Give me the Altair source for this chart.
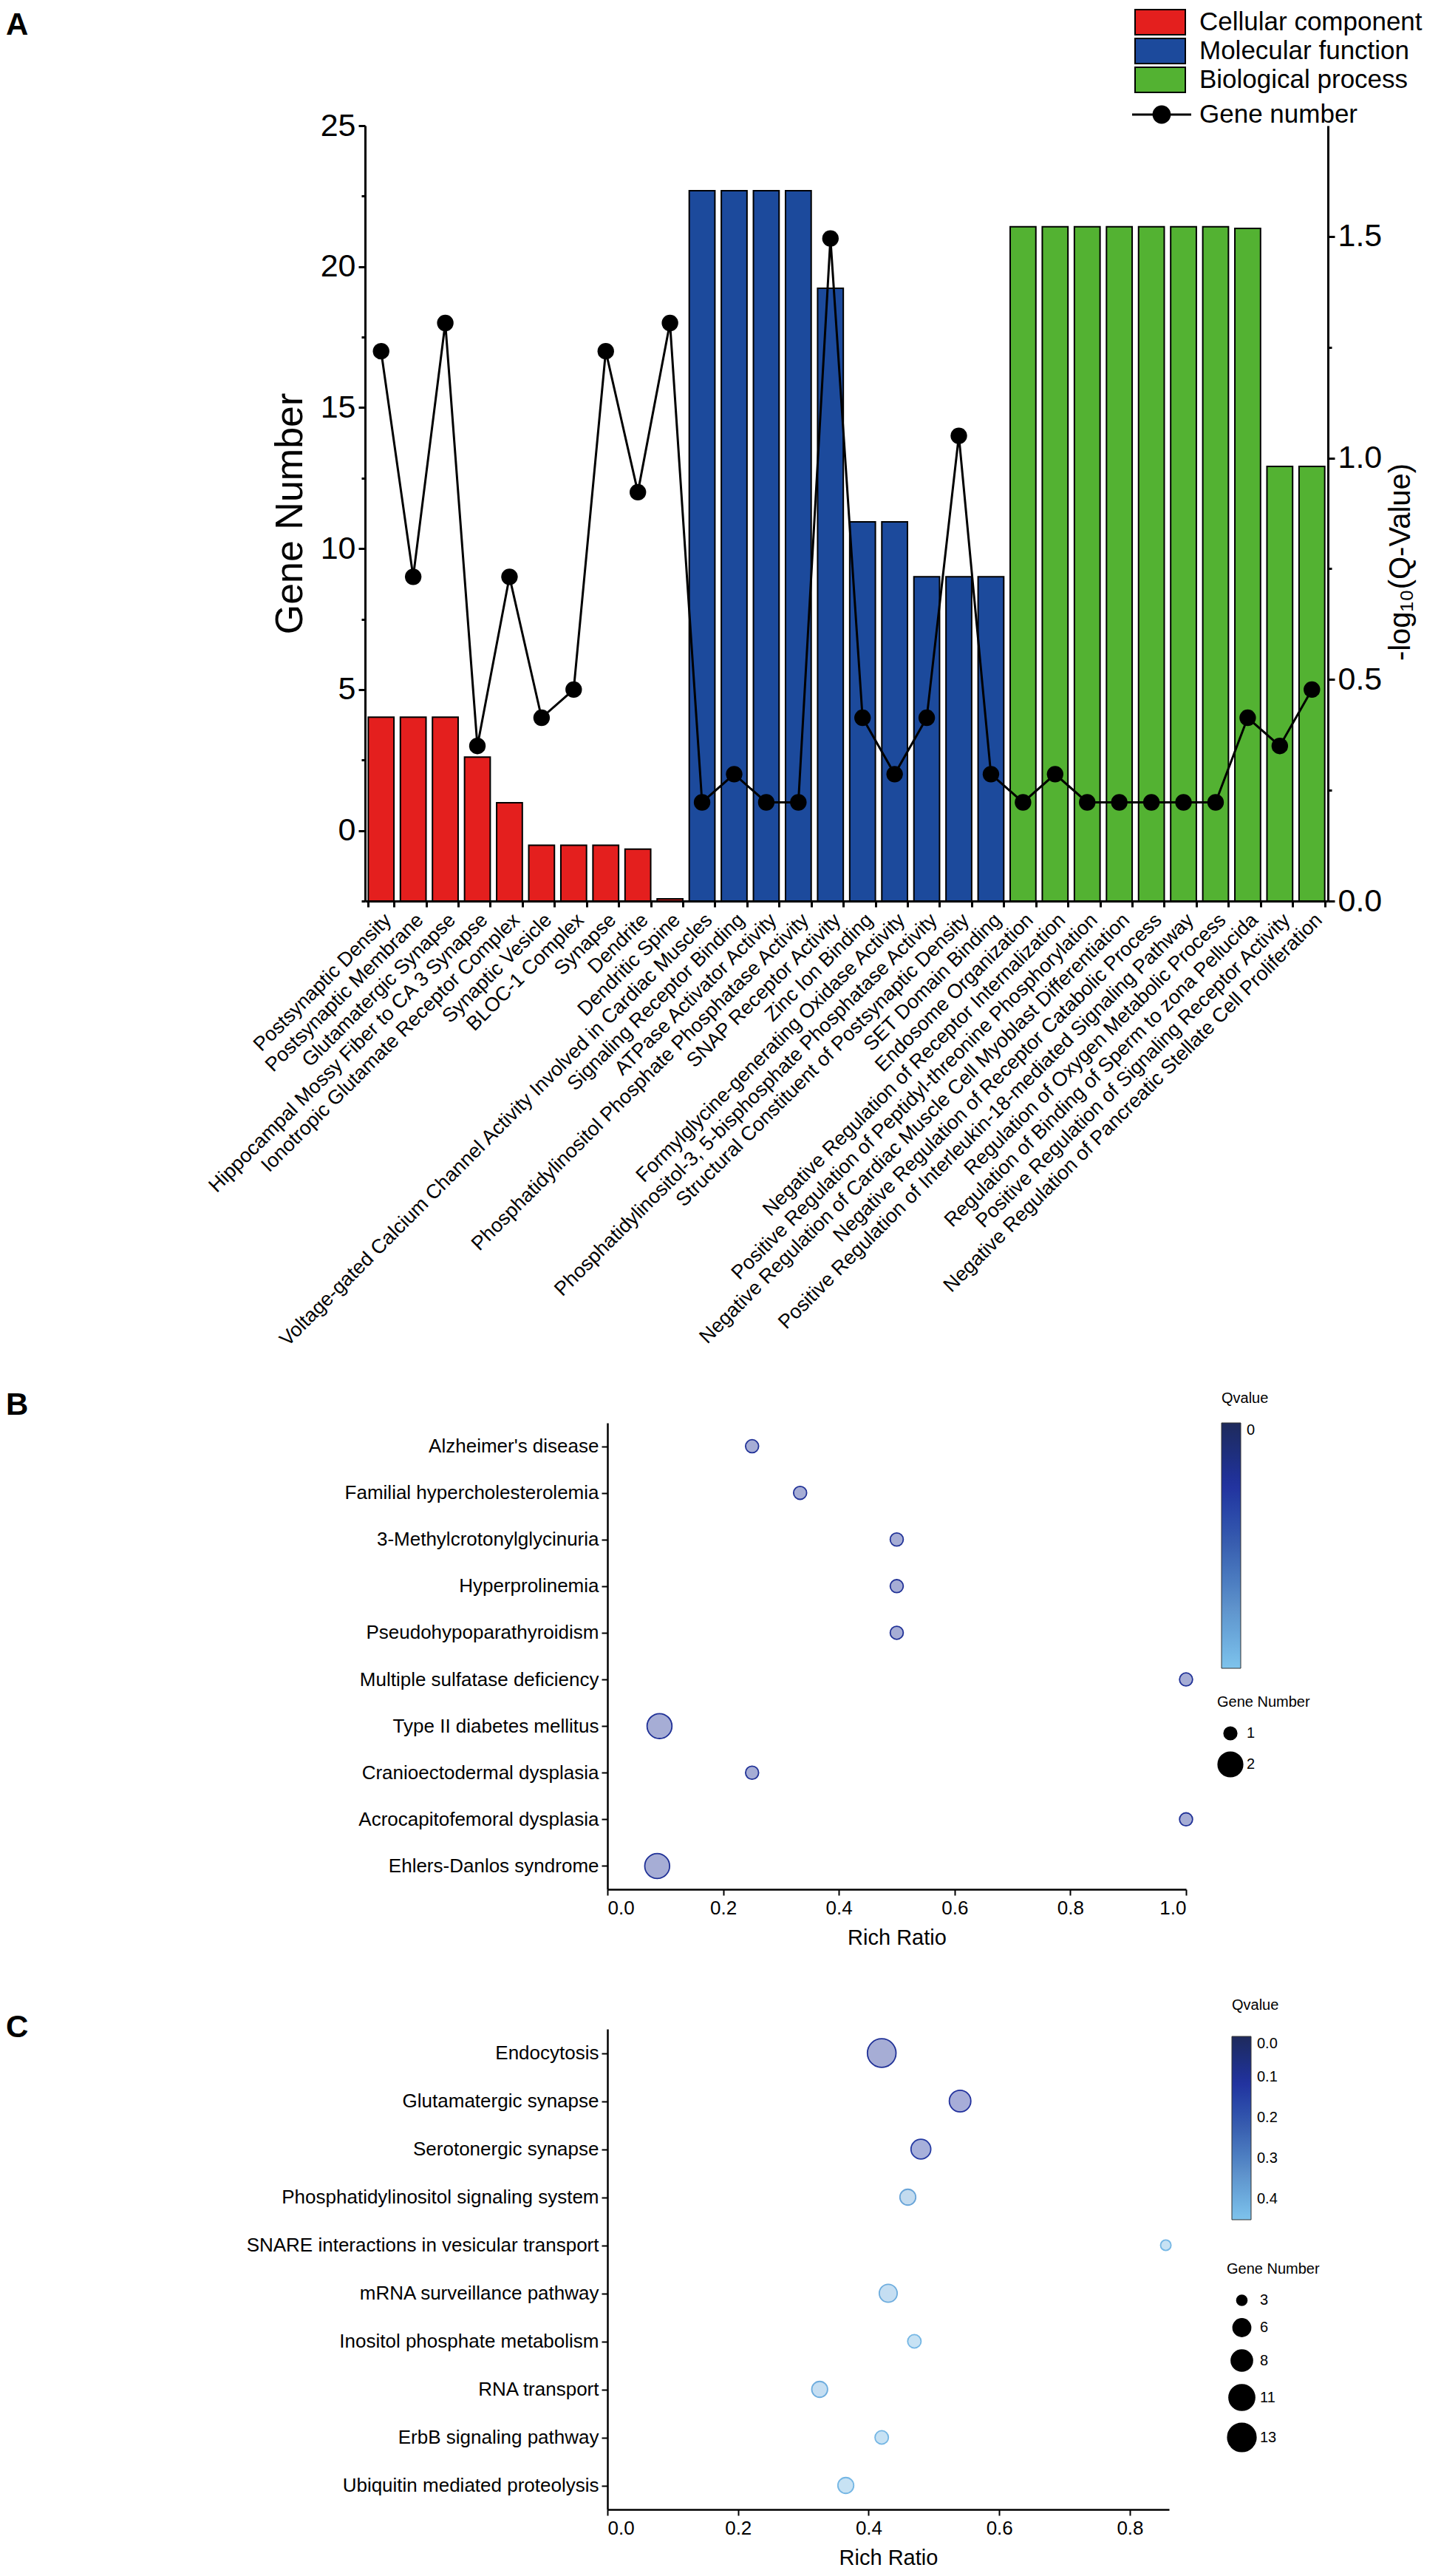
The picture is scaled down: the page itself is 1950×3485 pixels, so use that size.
import altair as alt
import pandas as pd

FONT = "Liberation Sans"

# ---------------- Panel A data ----------------
go_terms = [
    "Postsynaptic Density", "Postsynaptic Membrane", "Glutamatergic Synapse",
    "Hippocampal Mossy Fiber to CA 3 Synapse", "Ionotropic Glutamate Receptor Complex",
    "Synaptic Vesicle", "BLOC-1 Complex", "Synapse", "Dendrite", "Dendritic Spine",
    "Voltage-gated Calcium Channel Activity Involved in Cardiac Muscles",
    "Signaling Receptor Binding", "ATPase Activator Activity",
    "Phosphatidylinositol Phosphate Phosphatase Activity", "SNAP Receptor Activity",
    "Zinc Ion Binding", "Formylglycine-generating Oxidase Activity",
    "Phosphatidylinositol-3, 5-bisphosphate Phosphatase Activity",
    "Structural Constituent of Postsynaptic Density", "SET Domain Binding",
    "Endosome Organization", "Negative Regulation of Receptor Internalization",
    "Positive Regulation of Peptidyl-threonine Phosphorylation",
    "Negative Regulation of Cardiac Muscle Cell Myoblast Differentiation",
    "Negative Regulation of Receptor Catabolic Process",
    "Positive Regulation of Interleukin-18-mediated Signaling Pathway",
    "Regulation of Oxygen Metabolic Process",
    "Regulation of Binding of Sperm to zona Pellucida",
    "Positive Regulation of Signaling Receptor Activity",
    "Negative Regulation of Pancreatic Stellate Cell Proliferation",
]
go_category = (["Cellular component"] * 10 + ["Molecular function"] * 10
               + ["Biological process"] * 10)
go_neglog10_q = [0.415, 0.415, 0.415, 0.325, 0.222, 0.126, 0.126, 0.126, 0.117, 0.005,
                 1.603, 1.603, 1.603, 1.603, 1.383, 0.856, 0.856, 0.732, 0.732, 0.732,
                 1.522, 1.522, 1.522, 1.522, 1.522, 1.522, 1.522, 1.518, 0.981, 0.981]
go_gene_number = [17, 9, 18, 3, 9, 4, 5, 17, 12, 18,
                  1, 2, 1, 1, 21, 4, 2, 4, 14, 2,
                  1, 2, 1, 1, 1, 1, 1, 4, 3, 5]
cat_names = ["Cellular component", "Molecular function", "Biological process"]
cat_colors = ["#E41F1E", "#1C4A9C", "#53B232"]

# ---------------- Panel B data ----------------
kegg_disease = ["Alzheimer's disease", "Familial hypercholesterolemia",
                "3-Methylcrotonylglycinuria", "Hyperprolinemia", "Pseudohypoparathyroidism",
                "Multiple sulfatase deficiency", "Type II diabetes mellitus",
                "Cranioectodermal dysplasia", "Acrocapitofemoral dysplasia",
                "Ehlers-Danlos syndrome"]
disease_ratio = [0.25, 0.333, 0.5, 0.5, 0.5, 1.0, 0.09, 0.25, 1.0, 0.086]
disease_genes = [1, 1, 1, 1, 1, 1, 2, 1, 1, 2]
disease_q = [0.1] * 10

# ---------------- Panel C data ----------------
kegg_pathway = ["Endocytosis", "Glutamatergic synapse", "Serotonergic synapse",
                "Phosphatidylinositol signaling system",
                "SNARE interactions in vesicular transport", "mRNA surveillance pathway",
                "Inositol phosphate metabolism", "RNA transport", "ErbB signaling pathway",
                "Ubiquitin mediated proteolysis"]
pathway_ratio = [0.42, 0.54, 0.48, 0.46, 0.855, 0.43, 0.47, 0.325, 0.42, 0.365]
pathway_genes = [13, 8, 7, 5, 3, 6, 4, 5, 4, 5]
pathway_q = [0.10, 0.11, 0.13, 0.38, 0.42, 0.40, 0.42, 0.40, 0.42, 0.42]

q_range = ["#7EC3EC", "#5E92CB", "#3A5FB0", "#22319E", "#1F2A5C"]

INDEP = dict(color="independent", size="independent", stroke="independent",
             fill="independent", x="independent", y="independent")
LEG_INDEP = dict(color="independent", size="independent", fill="independent")

# ================= Panel A =================
dfA = pd.DataFrame({
    "term": go_terms, "category": go_category, "neglogq": go_neglog10_q,
    "genes": go_gene_number, "series": ["Gene number"] * len(go_terms),
})

baseA = alt.Chart(dfA).encode(
    x=alt.X("term:N", sort=go_terms,
            scale=alt.Scale(paddingInner=0.2, paddingOuter=0.1),
            axis=alt.Axis(title=None, labelAngle=-45, labelFontSize=27, labelLimit=1200,
                          tickBand="extent", tickSize=8, tickWidth=3, domainWidth=3,
                          labelPadding=4))
)

right_axis = alt.Axis(
    orient="right", title="-log₁₀(Q-Value)", titleFontSize=40, titleFontWeight="normal",
    titleAngle=270, titleBaseline="top", titlePadding=6, titleY=590,
    values=[0, 0.25, 0.5, 0.75, 1.0, 1.25, 1.5],
    labelExpr="datum.value % 0.5 == 0 ? format(datum.value, '.1f') : ''",
    labelFontSize=43, labelPadding=4,
    tickSize={"condition": {"test": "datum.value % 0.5 != 0", "value": 5}, "value": 9},
    tickWidth=3, domainWidth=3, grid=False)

bars = baseA.mark_bar(stroke="black", strokeWidth=2).encode(
    y=alt.Y("neglogq:Q", scale=alt.Scale(domain=[0, 1.75], nice=False, zero=True),
            axis=right_axis),
    fill=alt.Fill("category:N", scale=alt.Scale(domain=cat_names, range=cat_colors),
                  legend=alt.Legend(orient="none", legendX=1058, legendY=-158, title=None,
                                    symbolType="M-2,-1L2,-1L2,1L-2,1Z", symbolSize=1156,
                                    symbolStrokeColor="black", symbolStrokeWidth=2,
                                    labelFontSize=35, labelOffset=35, rowPadding=-4,
                                    labelLimit=800, padding=0)),
)

left_axis = alt.Axis(
    orient="left", title="Gene Number", titleFontSize=52, titleFontWeight="normal",
    values=[-2.5, 0, 2.5, 5, 7.5, 10, 12.5, 15, 17.5, 20, 22.5, 25],
    labelExpr="(datum.value >= 0 && datum.value % 5 == 0) ? datum.label : ''",
    labelFontSize=43, labelPadding=4, titlePadding=14,
    tickSize={"condition": {"test": "datum.value % 5 != 0", "value": 5}, "value": 9},
    tickWidth=3, domainWidth=3, grid=False)

lbase = baseA.encode(
    y=alt.Y("genes:Q", scale=alt.Scale(domain=[-2.5, 25], nice=False, zero=False),
            axis=left_axis))
gline = lbase.mark_line(color="black", strokeWidth=3)
gpts = lbase.mark_circle(size=500, opacity=1).encode(
    color=alt.Color("series:N", scale=alt.Scale(domain=["Gene number"], range=["black"]),
                    legend=alt.Legend(
                        orient="none", legendX=1057, legendY=-36, title=None,
                        symbolType=("M-2,-0.075L2,-0.075L2,0.075L-2,0.075Z "
                                    "M0.62,0A0.62,0.62,0,1,1,-0.62,0"
                                    "A0.62,0.62,0,1,1,0.62,0Z"),
                        symbolSize=1600, symbolOpacity=1, labelLimit=800,
                        labelFontSize=35, labelOffset=30, padding=0)))

panelA = alt.layer(bars, alt.layer(gline, gpts)).resolve_scale(
    y="independent", color="independent", fill="independent"
).properties(width=1303, height=1049)


# ================= Panels B and C =================
def bubble(df, terms, x_domain, x_values, size_domain, size_range, size_values,
           q_values, q_format, width, height,
           grad_x, grad_y, grad_len, size_x, size_y, grad_title_pad):
    qscale = alt.Scale(domain=[0.45, 0], range=q_range, nice=False, zero=False)
    qlegend = alt.Legend(orient="none", legendX=grad_x, legendY=grad_y, type="gradient",
                         title="Qvalue", titleFontSize=20, titleFontWeight="normal",
                         titlePadding=grad_title_pad, direction="vertical",
                         gradientLength=grad_len, gradientThickness=26, values=q_values,
                         format=q_format, labelFontSize=20, labelOffset=8, padding=0,
                         gradientStrokeColor="#333333", gradientStrokeWidth=1)
    slegend = alt.Legend(orient="none", legendX=size_x, legendY=size_y,
                         title="Gene Number", titleFontSize=20, titleFontWeight="normal",
                         titlePadding=22, labelFontSize=20, values=size_values, format="d",
                         symbolFillColor="black", symbolStrokeColor="black",
                         symbolOpacity=1, rowPadding=10, labelOffset=4, padding=0)
    xenc = alt.X("ratio:Q", scale=alt.Scale(domain=x_domain, nice=False, zero=False),
                 axis=alt.Axis(values=x_values, format=".1f", title="Rich Ratio",
                               titleFontSize=29, titleFontWeight="normal", titlePadding=13,
                               labelFontSize=26, tickSize=8, tickWidth=2, domainWidth=2.5,
                               labelPadding=4, grid=False))
    yenc = alt.Y("term:N", sort=terms,
                 axis=alt.Axis(title=None, labelFontSize=26, tickSize=8, tickWidth=2,
                               domainWidth=2.5, labelPadding=4, grid=False,
                               labelLimit=800))
    sscale = alt.Scale(domain=size_domain, range=size_range)
    fill_layer = alt.Chart(df).mark_circle(opacity=1, fillOpacity=0.4, strokeWidth=0).encode(
        x=xenc, y=yenc,
        size=alt.Size("genes:Q", scale=sscale, legend=slegend),
        color=alt.Color("q:Q", scale=qscale, legend=qlegend),
    )
    ring_layer = alt.Chart(df).mark_point(filled=False, shape="circle", opacity=1,
                                          strokeWidth=1.8).encode(
        x=xenc, y=yenc,
        size=alt.Size("genes:Q", scale=sscale, legend=None),
        color=alt.Color("q:Q", scale=qscale, legend=None),
    )
    return alt.layer(fill_layer, ring_layer).resolve_scale(
        color="independent", size="independent"
    ).resolve_legend(color="independent", size="independent").properties(
        width=width, height=height)


dfB = pd.DataFrame({"term": kegg_disease, "ratio": disease_ratio,
                    "genes": disease_genes, "q": disease_q})
panelB = bubble(dfB, kegg_disease, [0, 1], [0, 0.2, 0.4, 0.6, 0.8, 1.0],
                [1, 2], [314, 1134], [1, 2], [0], "d", 783, 631,
                831, -43, 332, 825, 368, 23)

dfC = pd.DataFrame({"term": kegg_pathway, "ratio": pathway_ratio,
                    "genes": pathway_genes, "q": pathway_q})
panelC = bubble(dfC, kegg_pathway, [0, 0.86], [0, 0.2, 0.4, 0.6, 0.8],
                [3, 13], [200, 1500], [3, 6, 8, 11, 13], [0, 0.1, 0.2, 0.3, 0.4], ".1f",
                760, 650, 845, -42, 248, 838, 315, 32)


def spacer(width, letter, offset):
    return alt.Chart(pd.DataFrame({"blank": [""]})).mark_text(opacity=0).encode(
        text="blank:N"
    ).properties(
        width=width, height=10,
        title=alt.TitleParams(text=letter, anchor="start", frame="group", offset=offset,
                              fontSize=42, fontWeight="bold", font=FONT),
    )


def row(letter, panel, lead, offset):
    return alt.hconcat(spacer(lead - 10, letter, offset), panel, spacing=10,
                       bounds="flush").resolve_scale(**INDEP).resolve_legend(**LEG_INDEP)


rowA = row("A", panelA, 486, 113)
rowB = row("B", panelB, 814, 1)
rowC = row("C", panelC, 814, -21)

chart = alt.vconcat(
    rowA,
    alt.vconcat(rowB, rowC, spacing=67).resolve_scale(**INDEP).resolve_legend(**LEG_INDEP),
    spacing=53,
).resolve_scale(**INDEP).resolve_legend(**LEG_INDEP).properties(
    padding={"left": 0, "top": 4, "right": 0, "bottom": 0}
).configure_view(stroke=None).configure_axis(
    labelFont=FONT, titleFont=FONT, labelColor="black", titleColor="black",
    domainColor="black", tickColor="black", grid=False
).configure_legend(
    labelFont=FONT, titleFont=FONT, labelColor="black", titleColor="black"
).configure_title(font=FONT, color="black")

chart.save("out.html", embed_options={"renderer": "svg", "actions": False})
